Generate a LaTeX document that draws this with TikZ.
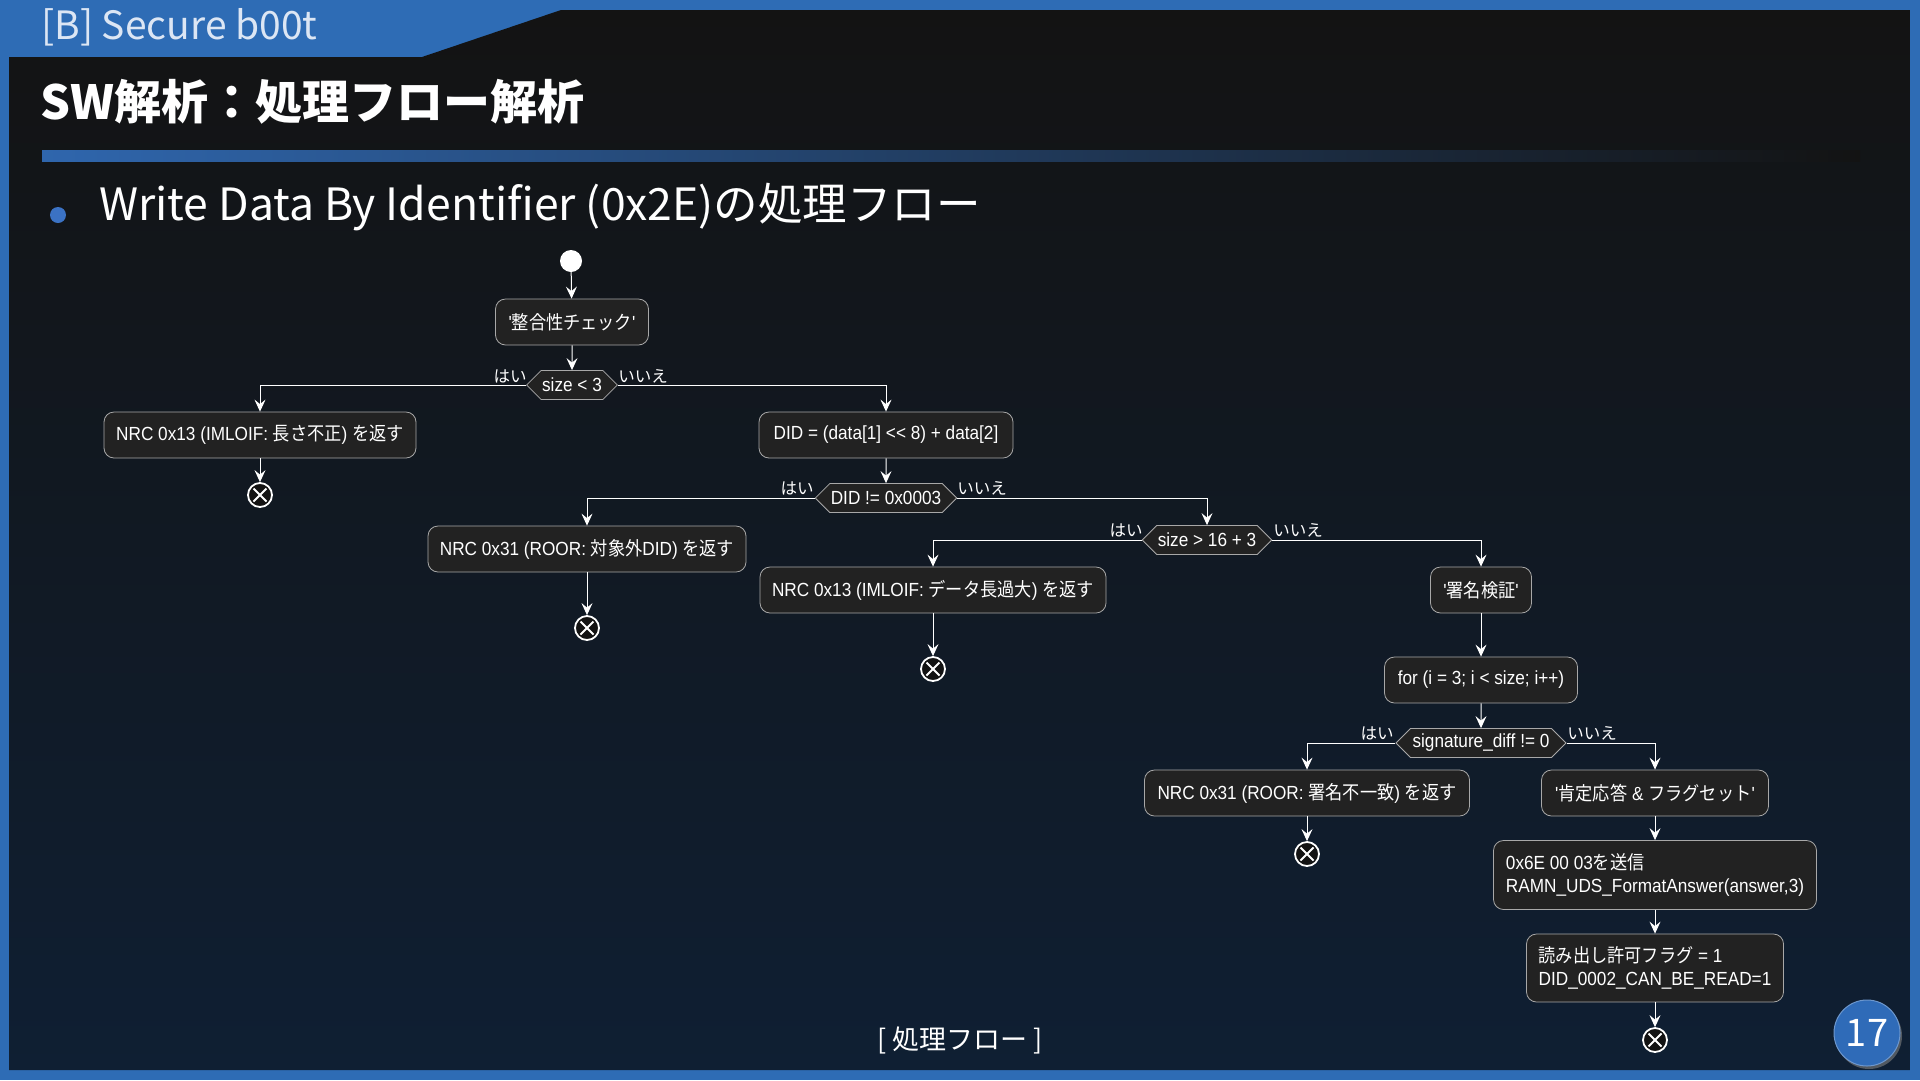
\documentclass[tikz,border=0pt]{standalone}
\usepackage{fontspec}
\usetikzlibrary{shapes.symbols,arrows.meta,shadows}
\setmainfont{Noto Sans CJK JP}
\newfontfamily\hdfont{Noto Sans CJK JP}
\newfontfamily\lat[FakeStretch=0.905]{Liberation Sans}
\newfontfamily\jpn[FakeStretch=0.905]{Noto Sans CJK JP}
\newcommand\J[1]{{\jpn #1}}
\definecolor{frameblue}{HTML}{2E6CB5}
\definecolor{bgtop}{HTML}{131313}
\definecolor{bgmid}{HTML}{131518}
\definecolor{bgbot}{HTML}{0F1F33}
\definecolor{boxfill}{HTML}{222222}
\definecolor{boxline}{HTML}{A8A8A8}
\definecolor{rulecol}{HTML}{2F66AD}
\definecolor{tabtext}{HTML}{DCE6F4}
\definecolor{bulletcol}{HTML}{3B72C4}
\definecolor{pagecol}{HTML}{2F6BB8}
\begin{document}
\begin{tikzpicture}[x=1pt,y=-1pt,
  actbox/.style={draw=boxline, fill=boxfill, rounded corners=10pt, line width=0.8pt,
    minimum height=46pt, inner xsep=11pt, inner ysep=6pt, text=white,
    font=\lat\fontsize{19}{23}\selectfont, align=left},
  decis/.style={signal, signal to=west and east, draw=boxline, fill=boxfill, line width=0.8pt,
    minimum height=29pt, inner xsep=1pt, inner ysep=0pt, text=white,
    font=\lat\fontsize{19}{23}\selectfont},
  lbl/.style={text=white, font=\hdfont\fontsize{16.5}{18}\selectfont, inner sep=0pt},
  endx/.style={circle, draw=white, line width=1.8pt, fill=bgtop, minimum size=24pt, inner sep=0pt,
    path picture={\draw[white, line width=2pt]
      ([shift={(-6.5,-6.5)}]path picture bounding box.center) -- ([shift={(6.5,6.5)}]path picture bounding box.center)
      ([shift={(-6.5,6.5)}]path picture bounding box.center) -- ([shift={(6.5,-6.5)}]path picture bounding box.center);}},
  startdot/.style={circle, fill=white, minimum size=22pt, inner sep=0pt},
  arr/.style={draw=white, line width=1pt, -{Stealth[length=12pt,width=11pt,inset=4.5pt]}},
]
\useasboundingbox (0,0) rectangle (1920,1080);
% frame and background
\fill[frameblue] (0,0) rectangle (1920,1080);
\shade[top color=bgtop, middle color=bgmid, bottom color=bgbot]
  (9,57) -- (422,57) -- (561,10) -- (1910,10) -- (1910,1070) -- (9,1070) -- cycle;
\node[anchor=west, text=tabtext, font=\hdfont\fontsize{39}{44}\selectfont, inner sep=0pt] (tab) at (41,27) {[B] Secure b00t};
\node[anchor=west, text=white, font=\hdfont\bfseries\fontsize{47}{52}\selectfont, inner sep=0pt] (title) at (40,102) {SW解析：処理フロー解析};
\shade[left color=rulecol, right color=bgtop] (42,150) rectangle (1860,161);
\fill[bulletcol] (58,215) circle (8);
\node[anchor=west, text=white, font=\hdfont\fontsize{44.5}{50}\selectfont, inner sep=0pt] (sub) at (99,207) {Write Data By Identifier (0x2E)の処理フロー};
\node[text=white, font=\hdfont\fontsize{27}{32}\selectfont, inner sep=0pt] (cap) at (960,1040) {[ 処理フロー ]};
\node[circle, fill=pagecol, draw=pagecol!70!white, line width=1pt, minimum size=66pt, inner sep=0pt,
  drop shadow={opacity=0.6, shadow xshift=2pt, shadow yshift=-3pt},
  text=white, font=\hdfont\fontsize{38}{40}\selectfont] (page) at (1867,1033) {17};

% flow nodes
\node[startdot] (start) at (571,261) {};
\node[actbox, minimum width=153pt] (n1) at (572,322) {'\J{整合性チェック}'};
\node[decis, minimum width=86pt] (d1) at (572,385) {size < 3};
\node[actbox, minimum width=312pt] (nA) at (260,435) {NRC 0x13 (IMLOIF: \J{長さ不正}) \J{を返す}};
\node[endx] (eA) at (260,495) {};
\node[actbox, minimum width=254pt] (nB) at (886,435) {DID = (data[1] << 8) + data[2]};
\node[decis, minimum width=141pt] (d2) at (886,498) {DID != 0x0003};
\node[actbox, minimum width=318pt] (nC) at (587,549) {NRC 0x31 (ROOR: \J{対象外}DID) \J{を返す}};
\node[endx] (eC) at (587,628) {};
\node[decis, minimum width=127pt] (d3) at (1207,540) {size > 16 + 3};
\node[actbox, minimum width=346pt] (nD) at (933,590) {NRC 0x13 (IMLOIF: \J{データ長過大}) \J{を返す}};
\node[endx] (eD) at (933,669) {};
\node[actbox, minimum width=101pt] (nE) at (1481,590) {'\J{署名検証}'};
\node[actbox, minimum width=193pt] (nF) at (1481,680) {for (i = 3; i < size; i++)};
\node[decis, minimum width=170pt] (d4) at (1481,743) {signature\_diff != 0};
\node[actbox, minimum width=325pt] (nG) at (1307,793) {NRC 0x31 (ROOR: \J{署名不一致}) \J{を返す}};
\node[endx] (eG) at (1307,854) {};
\node[actbox, minimum width=227pt] (nH) at (1655,793) {'\J{肯定応答} \& \J{フラグセット}'};
\node[actbox, minimum width=323pt, minimum height=69pt] (nI) at (1655,875) {0x6E 00 03\J{を送信}\\RAMN\_UDS\_FormatAnswer(answer,3)};
\node[actbox, minimum width=257pt, minimum height=68pt] (nJ) at (1655,968) {\J{読み出し許可フラグ} = 1\\DID\_0002\_CAN\_BE\_READ=1};
\node[endx] (eJ) at (1655,1040) {};

% branch labels
\node[lbl] (l1y) at (510,376) {はい};
\node[lbl] (l1n) at (643,376) {いいえ};
\node[lbl] (l2y) at (797,488) {はい};
\node[lbl] (l2n) at (982,488) {いいえ};
\node[lbl] (l3y) at (1126,530) {はい};
\node[lbl] (l3n) at (1298,530) {いいえ};
\node[lbl] (l4y) at (1377,733) {はい};
\node[lbl] (l4n) at (1592,733) {いいえ};

% connectors
\draw[arr] (start) -- (n1);
\draw[arr] (n1) -- (d1);
\draw[arr] (d1.west) -| (nA.north);
\draw[arr] (nA) -- (eA);
\draw[arr] (d1.east) -| (nB.north);
\draw[arr] (nB) -- (d2);
\draw[arr] (d2.west) -| (nC.north);
\draw[arr] (nC) -- (eC);
\draw[arr] (d2.east) -| (d3.north);
\draw[arr] (d3.west) -| (nD.north);
\draw[arr] (nD) -- (eD);
\draw[arr] (d3.east) -| (nE.north);
\draw[arr] (nE) -- (nF);
\draw[arr] (nF) -- (d4);
\draw[arr] (d4.west) -| (nG.north);
\draw[arr] (nG) -- (eG);
\draw[arr] (d4.east) -| (nH.north);
\draw[arr] (nH) -- (nI);
\draw[arr] (nI) -- (nJ);
\draw[arr] (nJ) -- (eJ);
\end{tikzpicture}
\end{document}
